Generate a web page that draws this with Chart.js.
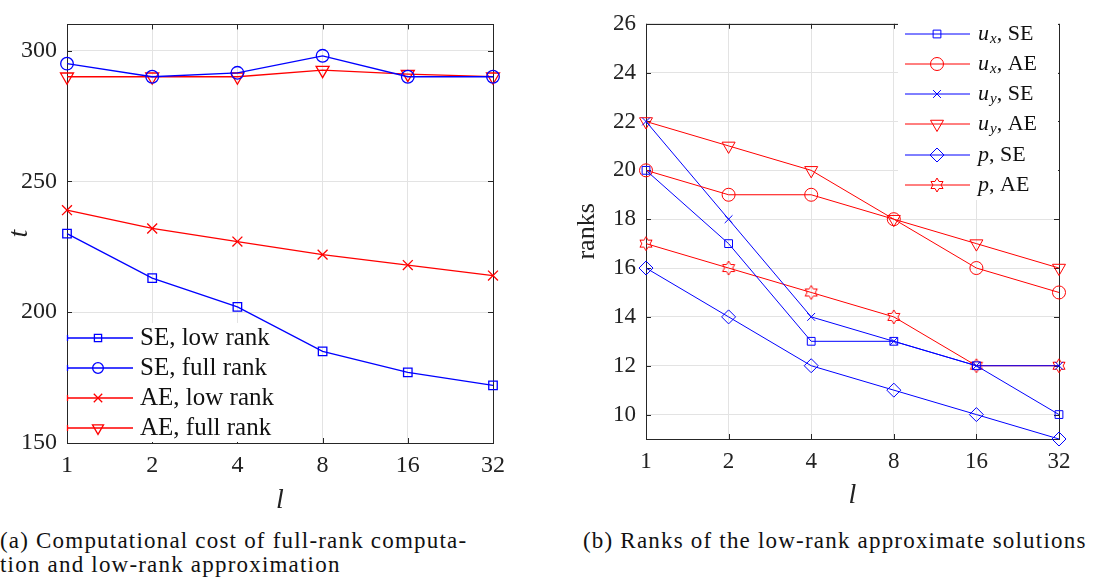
<!DOCTYPE html>
<html>
<head>
<meta charset="utf-8">
<script src="https://cdn.jsdelivr.net/npm/chart.js@4/dist/chart.umd.min.js"></script>
<style>
  body { margin: 0; background: #fff; width: 1109px; height: 582px; overflow: hidden; position: relative; }
  canvas { position: absolute; top: 0; }
  #costChart { left: 0; }
  #rankChart { left: 560px; }
  .caption { position: absolute; font-family: "Liberation Serif", serif; font-size: 23px; line-height: 24px; color: #111; white-space: nowrap; letter-spacing: 1.2px; }
  #capA { left: 0; top: 529px; }
  #capB { left: 583px; top: 529px; }
</style>
</head>
<body>
<canvas id="costChart" width="540" height="515"></canvas>
<canvas id="rankChart" width="549" height="515"></canvas>
<div class="caption" id="capA">(a) Computational cost of full-rank computa-<br>tion and low-rank approximation</div>
<div class="caption" id="capB">(b) Ranks of the low-rank approximate solutions</div>
<script>
// number of subdomains l
const levels = ['1', '2', '4', '8', '16', '32'];

// (a) run time t
const costLabels = ['SE, low rank', 'SE, full rank', 'AE, low rank', 'AE, full rank'];
const seLowRank = [230, 213, 202, 185, 177, 172];
const seFullRank = [295, 290, 291.5, 298, 290, 290];
const aeLowRank = [239, 232, 227, 222, 218, 214];
const aeFullRank = [290, 290, 290, 292.5, 291, 290];
const costTicks = [150, 200, 250, 300];

// (b) ranks
const rankLabels = ['u_x, SE', 'u_x, AE', 'u_y, SE', 'u_y, AE', 'p, SE', 'p, AE'];
const uxSE = [20, 17, 13, 13, 12, 10];
const uxAE = [20, 19, 19, 18, 16, 15];
const uySE = [22, 18, 14, 13, 12, 12];
const uyAE = [22, 21, 20, 18, 17, 16];
const pSE = [16, 14, 12, 11, 10, 9];
const pAE = [17, 16, 15, 14, 12, 12];
const rankTicks = [10, 12, 14, 16, 18, 20, 22, 24, 26];

const BLUE = '#0000ff';
const RED = '#ff0000';
const SERIF = '"Liberation Serif", "DejaVu Serif", serif';

// six-pointed star marker
function hexagram(color, R) {
  const c = document.createElement('canvas');
  const s = Math.ceil(R * 2 + 4);
  c.width = s; c.height = s;
  const g = c.getContext('2d');
  g.strokeStyle = color;
  g.lineWidth = 1;
  g.beginPath();
  for (let i = 0; i < 12; i++) {
    const a = -Math.PI / 2 + i * Math.PI / 6;
    const r = i % 2 === 0 ? R : R / Math.sqrt(3);
    const px = s / 2 + r * Math.cos(a), py = s / 2 + r * Math.sin(a);
    if (i === 0) g.moveTo(px, py); else g.lineTo(px, py);
  }
  g.closePath();
  g.stroke();
  return c;
}

function series(label, data, color, style, radius, width, rotation) {
  return {
    label: label,
    data: data,
    borderColor: color,
    backgroundColor: color,
    borderWidth: width,
    pointStyle: style,
    pointRadius: radius,
    pointRotation: rotation || 0,
    pointBorderColor: color,
    pointBackgroundColor: 'rgba(0,0,0,0)',
    pointBorderWidth: width,
    tension: 0,
    clip: false
  };
}

// MATLAB-like box with inward ticks
const boxPlugin = {
  id: 'boxAxes',
  beforeDatasetsDraw(chart) {
    const { ctx, chartArea: a, scales } = chart;
    ctx.save();
    ctx.strokeStyle = '#262626';
    ctx.lineWidth = 1;
    ctx.strokeRect(Math.round(a.left) + 0.5, Math.round(a.top) + 0.5, Math.round(a.right - a.left), Math.round(a.bottom - a.top));
    ctx.beginPath();
    scales.x.ticks.forEach((t, i) => {
      const x = Math.round(scales.x.getPixelForTick(i)) + 0.5;
      ctx.moveTo(x, a.bottom); ctx.lineTo(x, a.bottom - 5);
      ctx.moveTo(x, a.top); ctx.lineTo(x, a.top + 5);
    });
    scales.y.ticks.forEach(t => {
      const y = Math.round(scales.y.getPixelForValue(t.value)) + 0.5;
      ctx.moveTo(a.left, y); ctx.lineTo(a.left + 5, y);
      ctx.moveTo(a.right, y); ctx.lineTo(a.right - 5, y);
    });
    ctx.stroke();
    // legend background
    const lg = chart.options.plugins.boxLegend;
    if (lg && lg.bg) {
      ctx.fillStyle = '#fff';
      ctx.fillRect(lg.bg.l, lg.bg.t, lg.bg.r - lg.bg.l, lg.bg.b - lg.bg.t);
    }
    ctx.restore();
  }
};

function drawLabel(ctx, text, x, y, opt) {
  ctx.textBaseline = 'middle';
  ctx.textAlign = 'left';
  ctx.fillStyle = '#111';
  const m = opt.math ? text.match(/^([a-z])(?:_([a-z]))?, (.*)$/) : null;
  if (!m) {
    ctx.font = opt.size + 'px ' + SERIF;
    ctx.fillText(text, x, y);
    return;
  }
  ctx.font = 'italic ' + opt.size + 'px ' + SERIF;
  ctx.fillText(m[1], x, y);
  x += ctx.measureText(m[1]).width;
  if (m[2]) {
    ctx.font = 'italic ' + Math.round(opt.size * 0.7) + 'px ' + SERIF;
    ctx.fillText(m[2], x + 1, y + 5);
    x += ctx.measureText(m[2]).width + 1;
  }
  ctx.font = opt.size + 'px ' + SERIF;
  ctx.fillText(', ' + m[3], x, y);
}

const legendPlugin = {
  id: 'boxLegend',
  afterDatasetsDraw(chart, args, opt) {
    const ctx = chart.ctx;
    ctx.save();
    chart.data.datasets.forEach((ds, i) => {
      const y = opt.rows[i];
      ctx.strokeStyle = ds.borderColor;
      ctx.lineWidth = ds.borderWidth;
      ctx.beginPath();
      ctx.moveTo(opt.x0, y); ctx.lineTo(opt.x1, y);
      if (opt.cap) { ctx.moveTo(opt.x0 + 0.5, y - 3); ctx.lineTo(opt.x0 + 0.5, y + 3); }
      ctx.stroke();
      ctx.fillStyle = 'rgba(0,0,0,0)';
      ctx.lineWidth = ds.pointBorderWidth;
      Chart.helpers.drawPoint(ctx, {
        pointStyle: ds.pointStyle,
        radius: ds.pointRadius * (opt.markerScale || 1),
        rotation: ds.pointRotation,
        borderWidth: ds.pointBorderWidth
      }, opt.markerX, y);
      drawLabel(ctx, ds.label, opt.textX, y, opt);
    });
    ctx.restore();
  }
};

function axes(tickValues, yMin, yMax, yWidth, xHeight, tickSize, yTitle, yTitleFont, yTitlePad, xLabelPad, xTitlePad) {
  return {
    x: {
      type: 'category',
      offset: false,
      grid: { color: '#e3e3e3', drawTicks: false, offset: false },
      border: { display: false },
      ticks: { color: '#222', font: { family: SERIF, size: tickSize }, padding: xLabelPad, maxRotation: 0 },
      title: { display: true, text: 'l', color: '#222', font: { family: SERIF, size: 28, style: 'italic', lineHeight: 1 }, padding: { top: 0, bottom: xTitlePad } },
      afterFit(s) { s.height = xHeight; }
    },
    y: {
      min: yMin,
      max: yMax,
      grid: { color: '#e3e3e3', drawTicks: false },
      border: { display: false },
      ticks: { color: '#222', font: { family: SERIF, size: tickSize }, padding: 10 },
      afterBuildTicks(s) { s.ticks = tickValues.map(v => ({ value: v })); },
      title: { display: true, text: yTitle, color: '#222', font: yTitleFont, padding: { top: yTitlePad, bottom: 0 } },
      afterFit(s) { s.width = yWidth; }
    }
  };
}

new Chart(document.getElementById('costChart'), {
  type: 'line',
  data: {
    labels: levels,
    datasets: [
      series(costLabels[0], seLowRank, BLUE, 'rect', 6, 1.3),
      series(costLabels[1], seFullRank, BLUE, 'circle', 6.3, 1.3),
      series(costLabels[2], aeLowRank, RED, 'crossRot', 7, 1.3),
      series(costLabels[3], aeFullRank, RED, 'triangle', 7.5, 1.3, 180)
    ]
  },
  options: {
    responsive: false,
    animation: false,
    layout: { padding: { top: 16, right: 47, bottom: 0, left: 0 } },
    scales: axes(costTicks, 150, 310, 67, 72, 24, 't', { family: SERIF, size: 28, style: 'italic', lineHeight: 1 }, 6, 8, 0),
    plugins: {
      legend: { display: false },
      tooltip: { enabled: false },
      boxLegend: { x0: 67, x1: 133, markerX: 98, textX: 140, rows: [338, 368, 398, 428], size: 25, cap: true, markerScale: 0.85, bg: { l: 68, t: 323, r: 281, b: 442 } }
    }
  },
  plugins: [boxPlugin, legendPlugin]
});

new Chart(document.getElementById('rankChart'), {
  type: 'line',
  data: {
    labels: levels,
    datasets: [
      series(rankLabels[0], uxSE, BLUE, 'rect', 5.5, 1),
      series(rankLabels[1], uxAE, RED, 'circle', 6.5, 1),
      series(rankLabels[2], uySE, BLUE, 'crossRot', 5.5, 1),
      series(rankLabels[3], uyAE, RED, 'triangle', 7.5, 1, 180),
      series(rankLabels[4], pSE, BLUE, 'rectRot', 7, 1),
      series(rankLabels[5], pAE, RED, hexagram(RED, 7), 7, 1)
    ]
  },
  options: {
    responsive: false,
    animation: false,
    layout: { padding: { top: 14, right: 50, bottom: 0, left: 0 } },
    scales: axes(rankTicks, 9, 26, 86, 76, 23, 'ranks', { family: SERIF, size: 26, lineHeight: 1 }, 14, 9, 5),
    plugins: {
      legend: { display: false },
      tooltip: { enabled: false },
      boxLegend: { x0: 345, x1: 410, markerX: 377, textX: 418, rows: [34, 64, 94, 124, 155, 185], size: 22, math: true, bg: { l: 338, t: 19, r: 498, b: 200 } }
    }
  },
  plugins: [boxPlugin, legendPlugin]
});
</script>
</body>
</html>
